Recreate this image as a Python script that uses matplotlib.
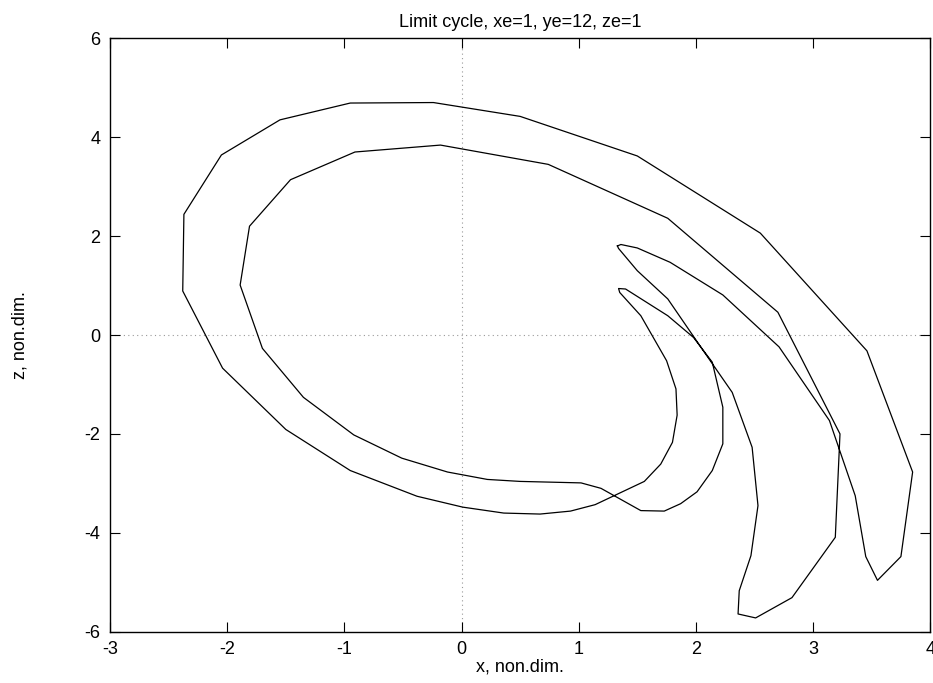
import matplotlib
matplotlib.use('Agg')
import matplotlib.pyplot as plt
import numpy as np

plt.rcParams['font.family'] = ['Liberation Sans', 'DejaVu Sans']
plt.rcParams['axes.unicode_minus'] = False

# limit cycle trajectory (closed curve)
x_traj = [1.33, 1.36, 1.50, 1.78, 2.23, 2.71, 3.14, 3.36, 3.45, 3.55,
          3.75, 3.85, 3.46, 2.55, 1.50, 0.50, -0.24, -0.95, -1.55, -2.05,
          -2.37, -2.38, -2.04, -1.50, -0.95, -0.38, 0.01, 0.36, 0.67, 0.93,
          1.14, 1.56, 1.70, 1.80, 1.84, 1.83, 1.75, 1.53, 1.35, 1.34,
          1.40, 1.76, 1.98, 2.14, 2.23, 2.23, 2.14, 2.01, 1.87, 1.73,
          1.53, 1.19, 1.02, 0.85, 0.50, 0.22, -0.12, -0.51, -0.92, -1.35,
          -1.70, -1.89, -1.81, -1.46, -0.91, -0.18, 0.74, 1.76, 2.70, 3.23,
          3.19, 2.82, 2.51, 2.36, 2.37, 2.47, 2.53, 2.48, 2.31, 2.07,
          1.76, 1.50, 1.34, 1.33]
z_traj = [1.80, 1.83, 1.76, 1.47, 0.81, -0.24, -1.73, -3.25, -4.48, -4.96,
          -4.48, -2.77, -0.32, 2.06, 3.62, 4.42, 4.70, 4.69, 4.35, 3.64,
          2.44, 0.89, -0.67, -1.91, -2.74, -3.26, -3.48, -3.60, -3.62, -3.56,
          -3.43, -2.96, -2.61, -2.17, -1.62, -1.09, -0.52, 0.39, 0.86, 0.94,
          0.93, 0.39, -0.05, -0.55, -1.46, -2.20, -2.74, -3.17, -3.41, -3.56,
          -3.55, -3.10, -2.99, -2.98, -2.96, -2.92, -2.77, -2.49, -2.02, -1.26,
          -0.27, 1.01, 2.20, 3.14, 3.70, 3.84, 3.45, 2.36, 0.46, -2.00,
          -4.09, -5.31, -5.72, -5.64, -5.17, -4.46, -3.45, -2.27, -1.16, -0.34,
          0.73, 1.30, 1.75, 1.80]

xticks = [-3, -2, -1, 0, 1, 2, 3, 4]
yticks = [-6, -4, -2, 0, 2, 4, 6]

fig = plt.figure(figsize=(9.33, 6.83), dpi=100)
ax = fig.add_axes([0.118, 0.075, 0.879, 0.869])

# zero axes, dotted
ax.axhline(0, color='#999999', lw=0.8, ls=(0, (1, 3)), zorder=1)
ax.axvline(0, color='#999999', lw=0.8, ls=(0, (1, 3)), zorder=1)

ax.plot(x_traj, z_traj, color='black', lw=0.9, zorder=2)

ax.set_xlim(-3, 4)
ax.set_ylim(-6, 6)
ax.set_xticks(xticks)
ax.set_yticks(yticks)
ax.tick_params(direction='in', top=True, right=True, length=7, labelsize=13, pad=7)
for s in ax.spines.values():
    s.set_linewidth(1.0)

ax.set_title('Limit cycle, xe=1, ye=12, ze=1', fontsize=13, pad=8)
ax.set_xlabel('x, non.dim.', fontsize=13, labelpad=0)
ax.set_ylabel('z, non.dim.', fontsize=13, labelpad=40)

fig.savefig('out.png', dpi=100)
